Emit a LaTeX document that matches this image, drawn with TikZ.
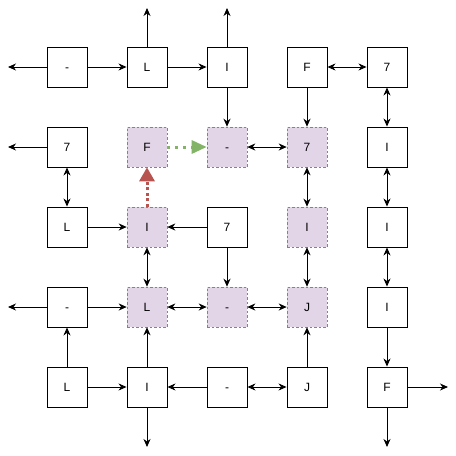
\documentclass[tikz,border=0pt]{standalone}
\usepackage{fontspec}
\setmainfont{Liberation Sans}
\usetikzlibrary{arrows.meta, positioning}
\definecolor{PipeFill}{HTML}{E1D5E7}
\definecolor{PipeEdge}{HTML}{9673A6}
\definecolor{PathGreen}{HTML}{82B366}
\definecolor{PathRed}{HTML}{B85450}

\tikzset{
  cell/.style={draw, line width=0.9pt, minimum size=40pt, inner sep=0pt,
    text height=8.6pt, text depth=0pt, font=\fontsize{12}{14}\selectfont},
  loopcell/.style={cell, fill=PipeFill, draw=PipeEdge, dashed, line width=0.6pt,
    dash pattern=on 2.5pt off 2pt},
  link/.style={line width=0.9pt, -{Stealth[length=8pt,width=7pt,inset=2.5pt]}},
  both/.style={link, {Stealth[length=8pt,width=7pt,inset=2.5pt]}-{Stealth[length=8pt,width=7pt,inset=2.5pt]}},
  stepgreen/.style={PathGreen, line width=3pt, dash pattern=on 3pt off 5pt,
    -{Triangle[length=15pt,width=13pt]}},
  stepred/.style={PathRed, line width=3pt, dash pattern=on 3pt off 2.5pt,
    -{Triangle[length=14pt,width=15pt]}}
}

\begin{document}
\begin{tikzpicture}[x=1pt, y=-1pt]
    \path[use as bounding box] (0,0) rectangle (456,456);
    % row 0
    \node[cell] (a0) at (67,67) {-};
    \node[cell] (a1) at (147,67) {L};
    \node[cell] (a2) at (227,67) {I};
    \node[cell] (a3) at (307,67) {F};
    \node[cell] (a4) at (387,67) {7};
    % row 1
    \node[cell] (b0) at (67,147) {7};
    \node[loopcell] (b1) at (147,147) {F};
    \node[loopcell] (b2) at (227,147) {-};
    \node[loopcell] (b3) at (307,147) {7};
    \node[cell] (b4) at (387,147) {I};
    % row 2
    \node[cell] (c0) at (67,227) {L};
    \node[loopcell] (c1) at (147,227) {I};
    \node[cell] (c2) at (227,227) {7};
    \node[loopcell] (c3) at (307,227) {I};
    \node[cell] (c4) at (387,227) {I};
    % row 3
    \node[cell] (d0) at (67,307) {-};
    \node[loopcell] (d1) at (147,307) {L};
    \node[loopcell] (d2) at (227,307) {-};
    \node[loopcell] (d3) at (307,307) {J};
    \node[cell] (d4) at (387,307) {I};
    % row 4
    \node[cell] (e0) at (67,387) {L};
    \node[cell] (e1) at (147,387) {I};
    \node[cell] (e2) at (227,387) {-};
    \node[cell] (e3) at (307,387) {J};
    \node[cell] (e4) at (387,387) {F};

    % open ends
    \coordinate (outA0) at (8,67);
    \coordinate (outA1) at (147,8);
    \coordinate (outA2) at (227,8);
    \coordinate (outB0) at (8,147);
    \coordinate (outD0) at (8,307);
    \coordinate (outE1) at (147,447);
    \coordinate (outE4) at (387,447);
    \coordinate (outE4r) at (448,387);

    % connections
    \draw[link] (a0) -- (outA0);
    \draw[link] (a0) -- (a1);
    \draw[link] (a1) -- (outA1);
    \draw[link] (a1) -- (a2);
    \draw[link] (a2) -- (outA2);
    \draw[link] (a2) -- (b2);
    \draw[both] (a3) -- (a4);
    \draw[link] (a3) -- (b3);
    \draw[both] (a4) -- (b4);

    \draw[link] (b0) -- (outB0);
    \draw[both] (b0) -- (c0);
    \draw[both] (b2) -- (b3);
    \draw[both] (b3) -- (c3);
    \draw[both] (b4) -- (c4);

    \draw[link] (c0) -- (c1);
    \draw[link] (c2) -- (c1);
    \draw[both] (c1) -- (d1);
    \draw[link] (c2) -- (d2);
    \draw[both] (c3) -- (d3);
    \draw[both] (c4) -- (d4);

    \draw[link] (d0) -- (outD0);
    \draw[link] (d0) -- (d1);
    \draw[both] (d1) -- (d2);
    \draw[both] (d2) -- (d3);
    \draw[link] (d4) -- (e4);

    \draw[link] (e0) -- (d0);
    \draw[link] (e0) -- (e1);
    \draw[link] (e1) -- (d1);
    \draw[link] (e1) -- (outE1);
    \draw[link] (e2) -- (e1);
    \draw[both] (e2) -- (e3);
    \draw[link] (e3) -- (d3);
    \draw[link] (e4) -- (outE4r);
    \draw[link] (e4) -- (outE4);

    % traced path
    \draw[stepgreen] (b1) -- (b2);
    \draw[stepred] (c1) -- (b1);
\end{tikzpicture}
\end{document}
